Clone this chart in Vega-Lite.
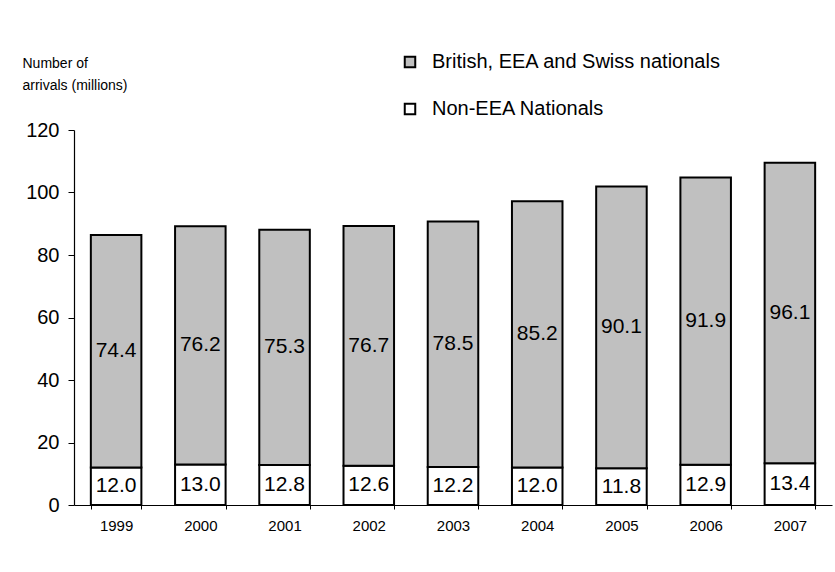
{
  "$schema": "https://vega.github.io/schema/vega-lite/v6.json",
  "width": 758,
  "height": 375,
  "autosize": {"type": "none"},
  "padding": {"left": 74, "top": 130, "right": 3, "bottom": 67},
  "background": "white",
  "config": {
    "font": "Liberation Sans",
    "view": {"stroke": null},
    "axis": {"grid": false, "domainColor": "#000000", "tickColor": "#000000", "labelColor": "#000000", "titleColor": "#000000", "labelFont": "Liberation Sans", "titleFont": "Liberation Sans", "titleFontWeight": "normal"},
    "legend": {"labelFont": "Liberation Sans", "labelColor": "#000000"}
  },
  "data": {
    "values": [
      {"year": "1999", "series": "Non-EEA Nationals", "value": 12.0},
      {"year": "1999", "series": "British, EEA and Swiss nationals", "value": 74.4},
      {"year": "2000", "series": "Non-EEA Nationals", "value": 13.0},
      {"year": "2000", "series": "British, EEA and Swiss nationals", "value": 76.2},
      {"year": "2001", "series": "Non-EEA Nationals", "value": 12.8},
      {"year": "2001", "series": "British, EEA and Swiss nationals", "value": 75.3},
      {"year": "2002", "series": "Non-EEA Nationals", "value": 12.6},
      {"year": "2002", "series": "British, EEA and Swiss nationals", "value": 76.7},
      {"year": "2003", "series": "Non-EEA Nationals", "value": 12.2},
      {"year": "2003", "series": "British, EEA and Swiss nationals", "value": 78.5},
      {"year": "2004", "series": "Non-EEA Nationals", "value": 12.0},
      {"year": "2004", "series": "British, EEA and Swiss nationals", "value": 85.2},
      {"year": "2005", "series": "Non-EEA Nationals", "value": 11.8},
      {"year": "2005", "series": "British, EEA and Swiss nationals", "value": 90.1},
      {"year": "2006", "series": "Non-EEA Nationals", "value": 12.9},
      {"year": "2006", "series": "British, EEA and Swiss nationals", "value": 91.9},
      {"year": "2007", "series": "Non-EEA Nationals", "value": 13.4},
      {"year": "2007", "series": "British, EEA and Swiss nationals", "value": 96.1}
    ]
  },
  "encoding": {
    "x": {
      "field": "year", "type": "ordinal", "title": null,
      "scale": {"paddingInner": 0.4, "paddingOuter": 0.2},
      "axis": {"labelAngle": 0, "labelFontSize": 15, "labelPadding": 9, "tickBand": "extent", "tickSize": 4, "domainWidth": 1.2, "tickWidth": 1}
    },
    "y": {
      "field": "value", "type": "quantitative", "stack": "zero",
      "scale": {"domain": [0, 120], "nice": false},
      "axis": {
        "values": [0, 20, 40, 60, 80, 100, 120],
        "labelFontSize": 20, "labelPadding": 9, "tickSize": 6, "domainWidth": 1.2, "tickWidth": 1,
        "title": ["Number of", "arrivals (millions)"],
        "titleFontSize": 14, "titleAngle": 0, "titleAlign": "left", "titleBaseline": "middle",
        "titleX": -52, "titleY": -67, "titleLineHeight": 22
      }
    },
    "order": {"field": "series", "sort": "descending"}
  },
  "layer": [
    {
      "mark": {"type": "bar", "stroke": "#000000", "strokeWidth": 2},
      "encoding": {
        "color": {
          "field": "series", "type": "nominal",
          "scale": {"domain": ["British, EEA and Swiss nationals", "Non-EEA Nationals"], "range": ["#C0C0C0", "#FFFFFF"]},
          "legend": {
            "title": null, "orient": "none", "legendX": 326, "legendY": -78,
            "symbolType": "square", "symbolSize": 110, "symbolStrokeColor": "#000000", "symbolStrokeWidth": 2,
            "labelFontSize": 20, "labelOffset": 12, "rowPadding": 27, "padding": 0, "labelLimit": 400
          }
        }
      }
    },
    {
      "mark": {"type": "text", "fontSize": 21, "color": "#000000", "baseline": "middle"},
      "encoding": {
        "y": {"field": "value", "type": "quantitative", "stack": "zero", "bandPosition": 0.5},
        "detail": {"field": "series"},
        "text": {"field": "value", "type": "quantitative", "format": ".1f"}
      }
    }
  ]
}
